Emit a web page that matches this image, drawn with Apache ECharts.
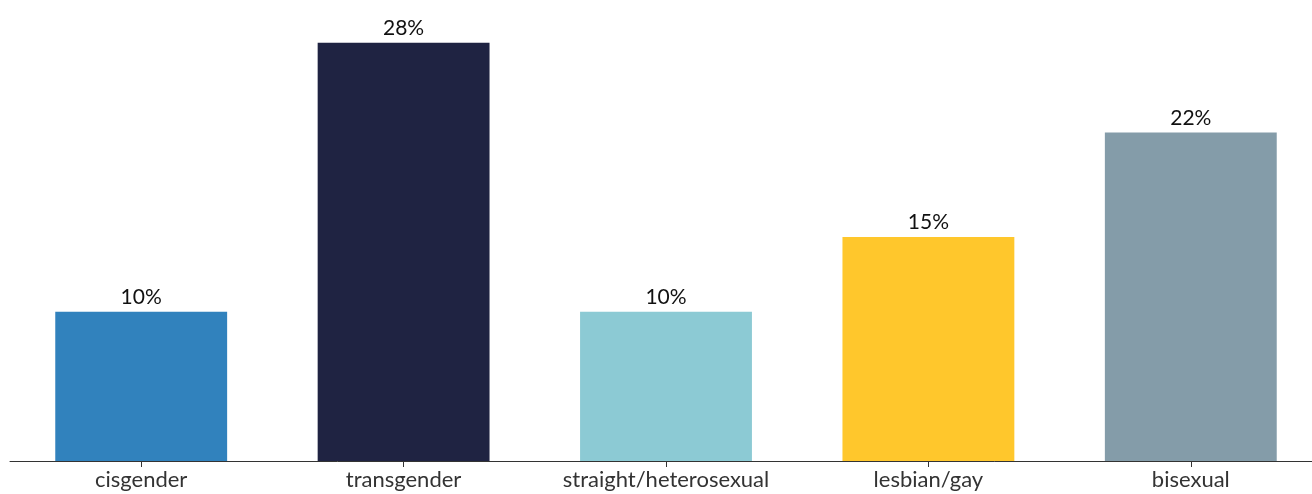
<!DOCTYPE html>
<html>
<head>
<meta charset="utf-8">
<script src="https://cdn.jsdelivr.net/npm/echarts@6/dist/echarts.min.js"></script>
<style>
  html, body { margin: 0; padding: 0; background: #fff; overflow: hidden; }
  #chart { width: 1322px; height: 494px; }
</style>
</head>
<body>
<div id="chart"></div>
<script>
const categories = ["cisgender", "transgender", "straight/heterosexual", "lesbian/gay", "bisexual"];
const values = [10, 28, 10, 15, 22];
const barColors = ["#3182bd", "#1f2342", "#8ccad4", "#ffc72c", "#849ca9"];

const myChart = echarts.init(document.getElementById("chart"));
const option = {
  backgroundColor: "#fff",
  animation: false,
  grid: { left: 10, right: 0, top: 13, height: 448 },
  xAxis: {
    type: "category",
    data: categories,
    axisLine: { show: true, lineStyle: { color: "#333", width: 1 } },
    axisTick: { show: true, alignWithLabel: true, length: 6, lineStyle: { color: "#333", width: 1 } },
    axisLabel: { interval: 0, color: "#333", fontSize: 22, fontFamily: "Lato", margin: 8 }
  },
  yAxis: {
    type: "value",
    min: 0,
    max: 30,
    show: false,
    splitLine: { show: false }
  },
  series: [{
    type: "bar",
    barWidth: "65.5%",
    data: values.map((v, i) => ({ value: v, itemStyle: { color: barColors[i] } })),
    label: {
      show: true,
      position: "top",
      distance: 4,
      formatter: "{c}%",
      color: "#111",
      fontSize: 21,
      fontFamily: "Lato"
    }
  }]
};
myChart.setOption(option);
</script>
</body>
</html>
